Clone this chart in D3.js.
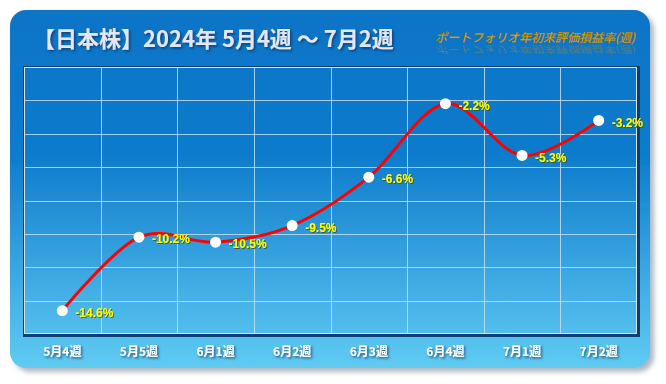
<!DOCTYPE html>
<html>
<head>
<meta charset="utf-8">
<script src="https://cdn.jsdelivr.net/npm/d3@7"></script>
<style>
  body { margin: 0; background: #ffffff; }
</style>
</head>
<body>
<svg id="chart"></svg>
<script>
const weeks = ['5月4週', '5月5週', '6月1週', '6月2週', '6月3週', '6月4週', '7月1週', '7月2週'];
const returns = [-14.6, -10.2, -10.5, -9.5, -6.6, -2.2, -5.3, -3.2];
const yTicks = [-16, -14, -12, -10, -8, -6, -4, -2, 0];
const titleText = '【日本株】2024年 5月4週 〜 7月2週';
const subtitleText = 'ポートフォリオ年初来評価損益率(週)';

class LineChart {

    constructor( config ) {
        this.config = {
            parent: config.parent,
            width: config.width || 666,
            height: config.height || 384,
            plot: config.plot || {left: 24, top: 67, right: 637, bottom: 334}
        }
        this.init();
    }

    init() {
        let self = this;

        self.svg = d3.select( self.config.parent )
            .attr('width', self.config.width)
            .attr('height', self.config.height);

        const defs = self.svg.append('defs');

        // same gradient for card and plot, in page space
        const grad = defs.append('linearGradient')
            .attr('id', 'bg')
            .attr('gradientUnits', 'userSpaceOnUse')
            .attr('x1', 0).attr('y1', 10).attr('x2', 0).attr('y2', 368);
        grad.append('stop').attr('offset', '0%').attr('stop-color', '#0a74c7');
        grad.append('stop').attr('offset', '40%').attr('stop-color', '#0d7bcc');
        grad.append('stop').attr('offset', '100%').attr('stop-color', '#60cbf3');

        const card = defs.append('filter').attr('id', 'cardShadow')
            .attr('x', '-5%').attr('y', '-5%').attr('width', '115%').attr('height', '115%');
        card.append('feDropShadow')
            .attr('dx', 4).attr('dy', 4).attr('stdDeviation', 2.5)
            .attr('flood-color', '#9aa6b2').attr('flood-opacity', 0.8);

        const txt = defs.append('filter').attr('id', 'textShadow')
            .attr('x', '-10%').attr('y', '-20%').attr('width', '130%').attr('height', '160%');
        txt.append('feDropShadow')
            .attr('dx', 1.5).attr('dy', 1.5).attr('stdDeviation', 0.8)
            .attr('flood-color', '#0b2f55').attr('flood-opacity', 0.75);

        const lbl = defs.append('filter').attr('id', 'labelShadow')
            .attr('x', '-10%').attr('y', '-20%').attr('width', '130%').attr('height', '160%');
        lbl.append('feDropShadow')
            .attr('dx', 1).attr('dy', 1).attr('stdDeviation', 0.6)
            .attr('flood-color', '#4a4a10').attr('flood-opacity', 0.8);

        // card
        self.svg.append('rect')
            .attr('x', 10).attr('y', 10)
            .attr('width', 640).attr('height', 358)
            .attr('rx', 16).attr('ry', 16)
            .attr('fill', 'url(#bg)')
            .attr('filter', 'url(#cardShadow)');

        // title
        self.svg.append('text')
            .attr('x', 33)
            .attr('y', 47)
            .style('font-family', '"Noto Sans CJK JP", sans-serif')
            .style('font-size', '22px')
            .style('font-weight', 'bold')
            .attr('fill', '#e3e7f5')
            .attr('filter', 'url(#textShadow)')
            .text( titleText );

        // subtitle, reflection drawn with <use>
        self.svg.append('text')
            .attr('id', 'subtitle')
            .attr('x', 435).attr('y', 42)
            .style('font-family', '"Noto Sans CJK JP", sans-serif')
            .style('font-size', '12px')
            .style('font-style', 'italic')
            .attr('fill', '#f7b900')
            .attr('stroke', '#a86a00')
            .attr('stroke-width', 0.3)
            .text( subtitleText );
        self.svg.append('use')
            .attr('href', '#subtitle')
            .attr('transform', `translate(0, ${44 * 1.8}) scale(1, -0.8)`)
            .attr('opacity', 0.3);

        self.chart = self.svg.append('g');
    }

    render() {
        let self = this;
        const p = self.config.plot;

        const x = d3.scaleBand()
            .domain( weeks )
            .range( [p.left, p.right] )
            .padding(0);

        const y = d3.scaleLinear()
            .domain( d3.extent(yTicks) )
            .range( [p.bottom, p.top] );

        // plot area shadow + background
        self.chart.append('rect')
            .attr('x', p.left - 1).attr('y', p.top - 1)
            .attr('width', p.right - p.left + 4).attr('height', p.bottom - p.top + 4)
            .attr('fill', '#0b3f70');
        self.chart.append('rect')
            .attr('x', p.left).attr('y', p.top)
            .attr('width', p.right - p.left).attr('height', p.bottom - p.top)
            .attr('fill', 'url(#bg)');

        // grid
        const grid = self.chart.append('g')
            .attr('stroke', '#c9dced')
            .attr('stroke-opacity', 0.85)
            .attr('stroke-width', 1);
        grid.selectAll('.hg')
            .data( yTicks.slice(1, -1) )
            .enter()
            .append('line')
            .attr('x1', p.left).attr('x2', p.right)
            .attr('y1', d => Math.round(y(d)) + 0.5)
            .attr('y2', d => Math.round(y(d)) + 0.5);
        grid.selectAll('.vg')
            .data( weeks.slice(1) )
            .enter()
            .append('line')
            .attr('y1', p.top).attr('y2', p.bottom)
            .attr('x1', d => Math.round(x(d)) + 0.5)
            .attr('x2', d => Math.round(x(d)) + 0.5);

        self.chart.append('rect')
            .attr('x', p.left + 0.5).attr('y', p.top + 0.5)
            .attr('width', p.right - p.left - 1).attr('height', p.bottom - p.top - 1)
            .attr('fill', 'none')
            .attr('stroke', '#d8e2ea')
            .attr('stroke-width', 1);

        // x axis labels
        const xAxis = d3.axisBottom(x).tickSize(0).tickPadding(0);
        const ax = self.chart.append('g')
            .attr('transform', `translate(0, ${p.bottom + 18})`)
            .call(xAxis);
        ax.select('.domain').remove();
        ax.selectAll('text')
            .attr('dy', '0.32em')
            .attr('fill', '#ffffff')
            .attr('filter', 'url(#textShadow)')
            .style('font-family', '"Noto Sans CJK JP", sans-serif')
            .style('font-size', '12px')
            .style('font-weight', 'bold');

        const cx = (d, i) => x(weeks[i]) + x.bandwidth() / 2;

        const line = d3.line()
            .x( (d, i) => cx(d, i) )
            .y( d => y(d) )
            .curve( d3.curveCardinal.tension(0) );

        self.chart.append('path')
            .datum( returns )
            .attr('d', line)
            .attr('fill', 'none')
            .attr('stroke', '#ff0000')
            .attr('stroke-width', 3);

        self.chart.selectAll('.pt')
            .data( returns )
            .enter()
            .append('circle')
            .attr('cx', (d, i) => cx(d, i))
            .attr('cy', d => y(d))
            .attr('r', 5.5)
            .attr('fill', '#ffffff');

        self.chart.selectAll('.lbl')
            .data( returns )
            .enter()
            .append('text')
            .attr('x', (d, i) => cx(d, i) + 13)
            .attr('y', d => y(d) + 2)
            .attr('dy', '0.35em')
            .attr('fill', '#ffff00')
            .attr('filter', 'url(#labelShadow)')
            .style('font-family', '"Liberation Sans", Arial, sans-serif')
            .style('font-size', '12px')
            .style('font-weight', 'bold')
            .text( d => d.toFixed(1) + '%' );
    }
}

const chart = new LineChart({ parent: '#chart', width: 666, height: 384 });
chart.render();
</script>
</body>
</html>
